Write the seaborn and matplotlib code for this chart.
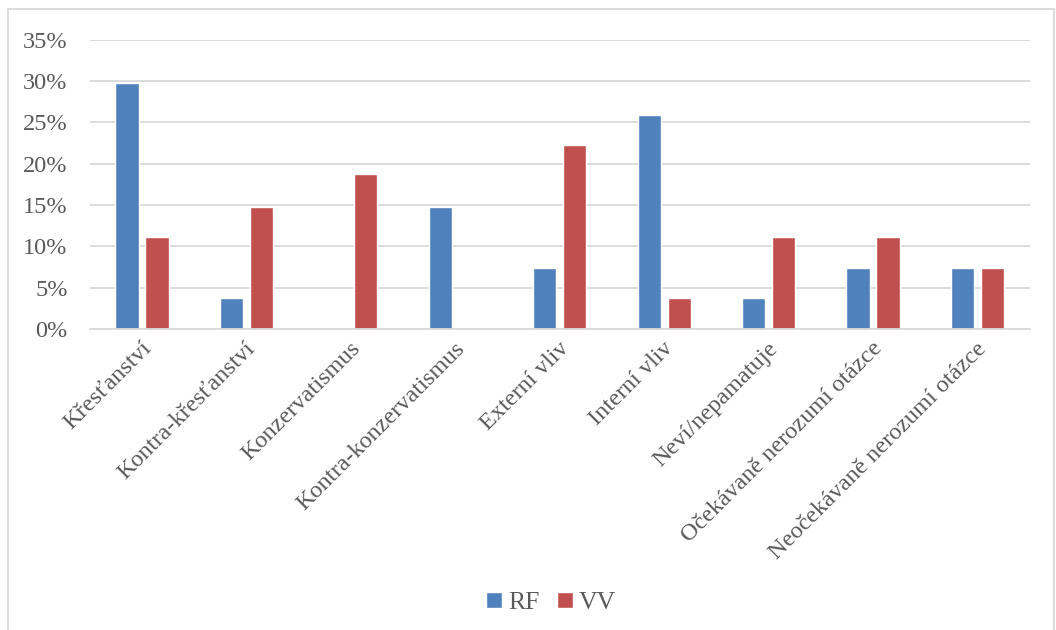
import pandas as pd
import numpy as np
import matplotlib
matplotlib.use('Agg')
import matplotlib.pyplot as plt
import seaborn as sns
from matplotlib.patches import Rectangle
from matplotlib.ticker import PercentFormatter
from matplotlib.transforms import ScaledTranslation

# data
categories = ['Křesťanství', 'Kontra-křesťanství', 'Konzervatismus',
              'Kontra-konzervatismus', 'Externí vliv', 'Interní vliv',
              'Neví/nepamatuje', 'Očekávaně nerozumí otázce',
              'Neočekávaně nerozumí otázce']
rf = [0.297, 0.037, 0.0, 0.148, 0.074, 0.259, 0.037, 0.074, 0.074]
vv = [0.111, 0.148, 0.187, 0.0, 0.222, 0.037, 0.111, 0.111, 0.074]
series = ['RF', 'VV']
colors = ['#4F81BD', '#C0504D']

d = pd.DataFrame({'category': categories * 2,
                  'value': rf + vv,
                  'series': ['RF'] * len(categories) + ['VV'] * len(categories)})

sns.set_style('white')
plt.rcParams['font.family'] = ['Liberation Serif', 'DejaVu Serif']
text_color = '#595959'
font_size = 17.5

fig = plt.figure(figsize=(10.56, 6.3), dpi=100)
ax = fig.add_axes([0.085, 0.478, 0.89, 0.459])

sns.barplot(data=d, x='category', y='value', hue='series', order=categories,
            hue_order=series, palette=colors, width=0.575, gap=0.23,
            saturation=1, ax=ax, legend=True)

ax.set_ylim(0, 0.35)
ax.set_xlim(-0.5, len(categories) - 0.5)
ax.set_yticks(np.arange(0, 0.36, 0.05))
ax.yaxis.set_major_formatter(PercentFormatter(1.0, decimals=0))
ax.grid(axis='y', color='#D9D9D9', linewidth=1.3)
ax.set_axisbelow(True)
for s in ['left', 'right', 'top']:
    ax.spines[s].set_visible(False)
ax.spines['bottom'].set_color('#D9D9D9')
ax.spines['bottom'].set_linewidth(1.3)
ax.tick_params(axis='both', length=0, labelsize=font_size, colors=text_color)
ax.tick_params(axis='y', pad=16)
ax.tick_params(axis='x', pad=12)
# nudge rotated labels a little to the right, like excel does
shift = ScaledTranslation(0.06, 0, fig.dpi_scale_trans)
for lab in ax.get_xticklabels():
    lab.set_rotation(45)
    lab.set_ha('right')
    lab.set_va('center')
    lab.set_rotation_mode('anchor')
    lab.set_transform(lab.get_transform() + shift)
ax.set_xlabel('')
ax.set_ylabel('')

# legend at bottom
handles, labels = ax.get_legend_handles_labels()
ax.legend(handles, labels, loc='center', bbox_to_anchor=(0.522, 0.043),
          bbox_transform=fig.transFigure, ncol=2, frameon=False,
          fontsize=font_size + 1, handlelength=0.6, handleheight=0.6,
          handletextpad=0.25, columnspacing=0.7, labelcolor=text_color)

# chart border
fig.patches.append(Rectangle((0.008, -0.01), 0.99, 0.995, transform=fig.transFigure,
                             fill=False, edgecolor='#D9D9D9', linewidth=1.3))

plt.savefig('out.png', dpi=100)
